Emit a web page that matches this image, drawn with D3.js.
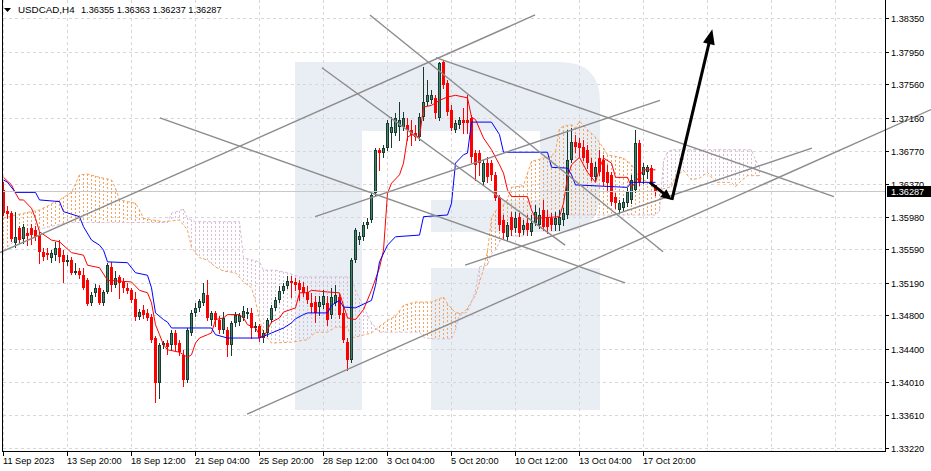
<!DOCTYPE html>
<html><head><meta charset="utf-8">
<script src="https://cdnjs.cloudflare.com/ajax/libs/d3/7.8.5/d3.min.js"></script>
<style>html,body{margin:0;padding:0;background:#fff;}svg{display:block;font-family:"Liberation Sans",Arial,sans-serif;}</style>
</head><body><svg id="c" width="931" height="471"></svg>
<script>
const symbolName = "USDCAD,H4";
const lastBarText = "1.36355 1.36363 1.36237 1.36287";
const lastPrice = 1.36287;

const open = [1.3630,1.3605,1.3602,1.3567,1.3584,1.3571,1.3579,1.3584,1.3582,1.3576,1.3556,1.3555,1.3549,1.3552,1.3561,1.3552,1.3544,1.3546,1.3531,1.3533,
1.3528,1.3522,1.3495,1.3507,1.3513,1.3495,1.3508,1.3538,1.3516,1.3526,1.3520,1.3513,1.3510,1.3500,1.3478,1.3487,1.3483,1.3478,1.3453,1.3399,
1.3445,1.3447,1.3445,1.3459,1.3447,1.3433,1.3403,1.3459,1.3483,1.3489,1.3495,1.3504,1.3475,1.3483,1.3475,1.3463,1.3463,1.3445,1.3471,1.3472,
1.3477,1.3482,1.3483,1.3465,1.3467,1.3453,1.3459,1.3475,1.3489,1.3498,1.3509,1.3515,1.3521,1.3520,1.3519,1.3514,1.3508,1.3495,1.3496,1.3490,
1.3492,1.3495,1.3481,1.3495,1.3502,1.3483,1.3448,1.3427,1.3546,1.3570,1.3574,1.3588,1.3594,1.3626,1.3678,1.3674,1.3680,1.3698,1.3698,1.3705,
1.3705,1.3708,1.3702,1.3698,1.3693,1.3717,1.3735,1.3737,1.3740,1.3716,1.3783,1.3758,1.3726,1.3702,1.3708,1.3714,1.3714,1.3716,1.3674,1.3674,
1.3639,1.3662,1.3662,1.3648,1.3622,1.3594,1.3574,1.3598,1.3584,1.3598,1.3582,1.3590,1.3580,1.3590,1.3588,1.3606,1.3598,1.3596,1.3588,1.3588,
1.3594,1.3600,1.3666,1.3687,1.3686,1.3681,1.3678,1.3662,1.3645,1.3668,1.3666,1.3651,1.3648,1.3622,1.3606,1.3608,1.3614,1.3618,1.3630,1.3686,
1.3648,1.3651,1.3656,1.36355];
const high = [1.3639,1.3611,1.3605,1.3604,1.3587,1.3589,1.3584,1.3589,1.3587,1.3580,1.3561,1.3561,1.3558,1.3568,1.3570,1.3558,1.3552,1.3550,1.3543,1.3537,
1.3537,1.3525,1.3508,1.3518,1.3516,1.3510,1.3543,1.3544,1.3533,1.3528,1.3525,1.3519,1.3513,1.3508,1.3488,1.3492,1.3488,1.3482,1.3455,1.3447,
1.3449,1.3451,1.3463,1.3463,1.3451,1.3439,1.3465,1.3487,1.3495,1.3500,1.3519,1.3522,1.3485,1.3485,1.3479,1.3484,1.3466,1.3473,1.3484,1.3483,
1.3491,1.3489,1.3489,1.3472,1.3470,1.3463,1.3477,1.3492,1.3502,1.3515,1.3519,1.3527,1.3527,1.3525,1.3522,1.3520,1.3515,1.3507,1.3503,1.3503,
1.3510,1.3503,1.3513,1.3516,1.3506,1.3492,1.3453,1.3549,1.3584,1.3580,1.3592,1.3596,1.3626,1.3680,1.3680,1.3684,1.3714,1.3717,1.3722,1.3735,
1.3723,1.3716,1.3714,1.3708,1.3722,1.3777,1.3761,1.3749,1.3743,1.3783,1.3785,1.3761,1.3731,1.3714,1.3717,1.3728,1.3743,1.3720,1.3678,1.3678,
1.3666,1.3669,1.3666,1.3651,1.3624,1.3600,1.3592,1.3604,1.3604,1.3602,1.3594,1.3600,1.3600,1.3612,1.3608,1.3618,1.3606,1.3602,1.3604,1.3606,
1.3608,1.3702,1.3704,1.3696,1.3692,1.3690,1.3684,1.3668,1.3663,1.3678,1.3672,1.3660,1.3651,1.3626,1.3618,1.3620,1.3632,1.3648,1.3702,1.3690,
1.3662,1.3660,1.3660,1.36363];
const low = [1.3600,1.3596,1.3569,1.3562,1.3567,1.3567,1.3564,1.3565,1.3570,1.3543,1.3546,1.3547,1.3544,1.3546,1.3544,1.3520,1.3540,1.3529,1.3530,1.3525,
1.3512,1.3492,1.3492,1.3503,1.3494,1.3492,1.3507,1.3509,1.3514,1.3501,1.3508,1.3507,1.3496,1.3475,1.3476,1.3477,1.3475,1.3448,1.3377,1.3381,
1.3441,1.3434,1.3439,1.3439,1.3433,1.3396,1.3400,1.3457,1.3479,1.3485,1.3492,1.3475,1.3469,1.3467,1.3459,1.3459,1.3432,1.3433,1.3467,1.3469,
1.3475,1.3477,1.3453,1.3461,1.3449,1.3448,1.3455,1.3472,1.3487,1.3496,1.3507,1.3513,1.3502,1.3510,1.3498,1.3503,1.3495,1.3484,1.3472,1.3481,
1.3489,1.3469,1.3477,1.3492,1.3477,1.3448,1.3415,1.3424,1.3544,1.3565,1.3570,1.3584,1.3592,1.3624,1.3654,1.3669,1.3678,1.3681,1.3696,1.3690,
1.3702,1.3690,1.3684,1.3690,1.3690,1.3714,1.3731,1.3734,1.3716,1.3714,1.3752,1.3720,1.3702,1.3699,1.3704,1.3698,1.3698,1.3663,1.3642,1.3648,
1.3636,1.3639,1.3642,1.3618,1.3582,1.3572,1.3570,1.3576,1.3580,1.3575,1.3577,1.3576,1.3576,1.3588,1.3584,1.3582,1.3579,1.3582,1.3582,1.3582,
1.3588,1.3596,1.3663,1.3675,1.3671,1.3666,1.3656,1.3642,1.3642,1.3648,1.3636,1.3630,1.3612,1.3608,1.3602,1.3606,1.3611,1.3614,1.3627,1.3636,
1.3638,1.3644,1.3636,1.36237];
const close = [1.3602,1.3601,1.3571,1.3574,1.3570,1.3586,1.3575,1.3576,1.3574,1.3556,1.3550,1.3552,1.3555,1.3561,1.3550,1.3544,1.3546,1.3531,1.3533,1.3528,
1.3513,1.3494,1.3504,1.3513,1.3495,1.3508,1.3540,1.3516,1.3525,1.3519,1.3513,1.3509,1.3498,1.3478,1.3484,1.3481,1.3477,1.3451,1.3399,1.3445,
1.3447,1.3442,1.3459,1.3445,1.3436,1.3403,1.3463,1.3483,1.3489,1.3497,1.3507,1.3477,1.3483,1.3475,1.3463,1.3477,1.3445,1.3471,1.3481,1.3480,
1.3485,1.3484,1.3465,1.3467,1.3453,1.3459,1.3475,1.3489,1.3498,1.3509,1.3515,1.3521,1.3519,1.3516,1.3510,1.3507,1.3498,1.3490,1.3483,1.3496,
1.3503,1.3475,1.3502,1.3504,1.3481,1.3451,1.3427,1.3546,1.3582,1.3575,1.3588,1.3592,1.3624,1.3678,1.3674,1.3680,1.3710,1.3705,1.3716,1.3714,
1.3716,1.3702,1.3696,1.3693,1.3717,1.3735,1.3743,1.3743,1.3722,1.3782,1.3755,1.3723,1.3704,1.3710,1.3714,1.3710,1.3710,1.3669,1.3660,1.3662,
1.3662,1.3645,1.3648,1.3620,1.3588,1.3579,1.3588,1.3582,1.3596,1.3579,1.3588,1.3582,1.3590,1.3604,1.3600,1.3586,1.3586,1.3588,1.3596,1.3598,
1.3602,1.3666,1.3687,1.3681,1.3680,1.3668,1.3662,1.3645,1.3657,1.3651,1.3639,1.3638,1.3616,1.3614,1.3614,1.3616,1.3627,1.3642,1.3686,1.3639,
1.3657,1.3657,1.3639,1.36287];

// Ichimoku lines: [bar index, price]
const tenkan = [[0,1.3645],[2,1.3636],[3,1.3626],[4,1.3618],[5,1.3618],[7,1.3608],[8,1.3596],[9,1.3580],[12,1.3570],[14,1.3568],[17,1.3555],[20,1.3552],[21,1.3540],[24,1.3537],[26,1.3522],[32,1.3520],[34,1.3510],[36,1.3507],[37,1.3495],[38,1.3469],[39,1.3457],[40,1.3445],[41,1.3439],[44,1.3436],[46,1.3430],[47,1.3433],[48,1.3447],[49,1.3453],[51,1.3457],[52,1.3459],[53,1.3475],[55,1.3477],[56,1.3481],[59,1.3481],[60,1.3477],[61,1.3469],[63,1.3465],[64,1.3457],[65,1.3453],[66,1.3463],[67,1.3472],[69,1.3477],[70,1.3484],[73,1.3489],[74,1.3507],[76,1.3507],[77,1.3510],[81,1.3508],[84,1.3507],[85,1.3492],[86,1.3477],[88,1.3475],[90,1.3487],[92,1.3510],[94,1.3537],[95,1.3558],[96,1.3626],[97,1.3638],[99,1.3648],[100,1.3662],[101,1.3693],[102,1.3696],[104,1.3693],[105,1.3729],[107,1.3731],[109,1.3737],[111,1.3741],[113,1.3743],[116,1.3740],[117,1.3717],[118,1.3714],[120,1.3692],[122,1.3678],[124,1.3660],[125,1.3650],[126,1.3630],[127,1.3622],[131,1.3622],[132,1.3606],[133,1.3596],[139,1.3598],[140,1.3614],[141,1.3645],[142,1.3660],[144,1.3669],[146,1.3651],[148,1.3639],[149,1.3656],[150,1.3668],[152,1.3662],[153,1.3645],[156,1.3645],[157,1.3633],[158,1.3639],[160,1.3654],[163,1.3654]];
const kijun = [[0,1.3642],[1,1.3639],[3,1.3627],[8,1.3627],[9,1.3618],[14,1.3616],[15,1.3604],[19,1.3598],[20,1.3586],[22,1.3570],[24,1.3564],[25,1.3558],[26,1.3544],[31,1.3543],[33,1.3531],[36,1.3528],[37,1.3513],[38,1.3483],[40,1.3475],[41,1.3472],[42,1.3465],[52,1.3465],[53,1.3457],[56,1.3453],[64,1.3453],[67,1.3459],[70,1.3465],[72,1.3471],[73,1.3476],[75,1.3481],[76,1.3483],[81,1.3483],[82,1.3492],[84,1.3498],[85,1.3490],[88,1.3489],[92,1.3498],[93,1.3516],[94,1.3544],[96,1.3564],[98,1.3574],[104,1.3576],[105,1.3598],[111,1.3600],[112,1.3614],[113,1.3662],[115,1.3672],[116,1.3674],[117,1.3711],[122,1.3711],[124,1.3696],[125,1.3675],[136,1.3675],[137,1.3657],[141,1.3656],[142,1.3648],[143,1.3636],[156,1.3633],[157,1.3639],[163,1.3639]];
const spanA = [[0,1.3596],[3,1.3600],[9,1.3606],[14,1.3618],[17,1.3627],[19,1.3648],[21,1.3649],[24,1.3645],[27,1.3642],[28,1.3632],[29,1.3618],[33,1.3614],[34,1.3606],[35,1.3596],[40,1.3592],[44,1.3594],[46,1.3582],[47,1.3561],[49,1.3549],[51,1.3546],[53,1.3538],[55,1.3533],[58,1.3531],[60,1.3520],[62,1.3513],[63,1.3497],[64,1.3475],[65,1.3459],[67,1.3447],[72,1.3448],[76,1.3451],[78,1.3460],[81,1.3460],[83,1.3466],[86,1.3466],[87,1.3453],[92,1.3459],[94,1.3467],[96,1.3474],[98,1.3479],[100,1.3492],[103,1.3496],[107,1.3496],[110,1.3502],[111,1.3494],[113,1.3483],[115,1.3483],[116,1.3489],[118,1.3504],[120,1.3535],[121,1.3557],[122,1.3596],[123,1.3605],[125,1.3612],[126,1.3619],[127,1.3633],[130,1.3635],[131,1.3650],[132,1.3664],[135,1.3668],[137,1.3670],[138,1.3677],[139,1.3703],[140,1.3706],[142,1.3708],[143,1.3704],[144,1.3712],[146,1.3702],[148,1.3693],[150,1.3680],[151,1.3672],[155,1.3668],[157,1.3660],[159,1.3645],[162,1.3636],[163,1.3627],[164,1.3630],[167,1.3634],[168,1.3646],[170,1.3653],[172,1.3642],[174,1.3644],[176,1.3651],[178,1.3639],[182,1.3639],[183,1.3634],[184,1.3639],[186,1.3647],[189,1.3647]];
const spanB = [[0,1.3558],[3,1.3570],[8,1.3582],[16,1.3591],[41,1.3591],[42,1.3602],[45,1.3607],[46,1.3596],[48,1.3592],[59,1.3592],[60,1.3549],[64,1.3544],[65,1.3534],[68,1.3534],[71,1.3531],[74,1.3526],[87,1.3526],[88,1.3510],[92,1.3471],[94,1.3460],[104,1.3460],[105,1.3454],[107,1.3452],[112,1.3452],[113,1.3463],[114,1.3481],[116,1.3484],[117,1.3496],[118,1.3510],[119,1.3538],[121,1.3540],[122,1.3554],[123,1.3558],[124,1.3568],[125,1.3575],[130,1.3575],[131,1.3595],[135,1.3599],[136,1.3600],[163,1.3600],[164,1.3605],[165,1.3665],[166,1.3675],[167,1.3678],[187,1.3678],[188,1.3666],[189,1.3657]];

// Drawn trend lines: endpoints as [bar index, price]
const trendLines = [
  [[-0.9,1.3555],[132.9,1.3839]],
  [[39.1,1.3716],[155.4,1.3519]],
  [[60.9,1.3362],[231.9,1.3726]],
  [[77.9,1.3598],[164.1,1.3737]],
  [[115.4,1.3540],[202.1,1.3680]],
  [[108.1,1.3788],[207.6,1.3622]],
  [[91.6,1.3839],[164.9,1.3556]],
  [[79.6,1.3776],[140.4,1.3564]]
];
// Forecast arrows
const arrows = [
  {from:[161.6,1.3639], to:[167.1,1.3618], head:11, w:10},
  {from:[167.1,1.3618], to:[177.2,1.3822], head:15, w:12}
];

const xTickBars = [0,16,32,48,64,80,96,112,128,144,160];
const xTickLabels = ["11 Sep 2023","13 Sep 20:00","18 Sep 12:00","21 Sep 04:00","25 Sep 20:00","28 Sep 12:00","3 Oct 04:00","5 Oct 20:00","10 Oct 12:00","13 Oct 04:00","17 Oct 20:00"];
const xGridBars = [0,16,32,48,64,80,96,112,128,144,160,176,192,208];
const yTickValues = [1.38350,1.37950,1.37560,1.37160,1.36770,1.36370,1.35980,1.35590,1.35190,1.34800,1.34400,1.34010,1.33610,1.33220];

const W=931,H=471, plotR=885.5, plotB=451.5;
const svg = d3.select("#c");
const x = d3.scaleLinear().domain([0,1]).range([3.5,7.5]);
const y = d3.scaleLinear().domain([1.33180,1.38569]).range([451,0]);
const ry = v => Math.round(y(v));

svg.append("rect").attr("width",W).attr("height",H).attr("fill","#fff");

// watermark
const wm = svg.append("g").attr("fill","#e9edf4");
wm.append("path").attr("fill-rule","evenodd").attr("d",
 "M295,62 H560 Q600,62 600,102 V192 Q600,232 560,232 H431 V200 H540 V131 H362 V410 H295 Z");
wm.append("rect").attr("x",431).attr("y",268).attr("width",169).attr("height",142);

// grid
const grid = svg.append("g").attr("stroke","#d7d7d7").attr("stroke-dasharray","3,3").attr("shape-rendering","crispEdges");
grid.selectAll("line.v").data(xGridBars).join("line").attr("class","v").attr("x1",d=>x(d)).attr("x2",d=>x(d)).attr("y1",0).attr("y2",451);
grid.selectAll("line.h").data(yTickValues).join("line").attr("class","h").attr("x1",3).attr("x2",885).attr("y1",d=>ry(d)+0.5).attr("y2",d=>ry(d)+0.5);

// cloud: one dashed stroke per bar between Senkou A and Senkou B, as the drawn lines pass that bar
function along(series, i){
  for(let k=0;k<series.length-1;k++){
    const a=series[k], b=series[k+1];
    if(i>=a[0] && i<=b[0]) return a[1]+(b[1]-a[1])*(i-a[0])/(b[0]-a[0]);
  }
  return null;
}
const lastCloudBar = spanA[spanA.length-1][0];
const hatch = d3.range(0,lastCloudBar+1).map(i=>({i,a:along(spanA,i),b:along(spanB,i)}));
svg.append("g").attr("shape-rendering","crispEdges").selectAll("line").data(hatch).join("line")
  .attr("x1",d=>x(d.i)).attr("x2",d=>x(d.i))
  .attr("y1",d=>Math.round(y(Math.max(d.a,d.b)))).attr("y2",d=>Math.round(y(Math.min(d.a,d.b))))
  .attr("stroke",d=>d.a>=d.b?"#f4a460":"#d8bfd8").attr("stroke-dasharray","2,2");
const line = d3.line().x(d=>x(d[0])).y(d=>y(d[1]));
svg.append("path").attr("d",line(spanA)).attr("fill","none").attr("stroke","#f4a460").attr("stroke-dasharray","3,2");
svg.append("path").attr("d",line(spanB)).attr("fill","none").attr("stroke","#d8bfd8").attr("stroke-dasharray","3,2");

// candles
const bars = open.map((o,i)=>({i,o,h:high[i],l:low[i],c:close[i]}));
const bullFill="#3f8468", bullEdge="#1b3a2e", bear="#ff0000";
const cg = svg.append("g").attr("shape-rendering","crispEdges");
cg.selectAll("line").data(bars).join("line")
  .attr("x1",d=>x(d.i)).attr("x2",d=>x(d.i)).attr("y1",d=>ry(d.h)).attr("y2",d=>ry(d.l)+1)
  .attr("stroke",d=>d.c>d.o?bullEdge:bear);
cg.selectAll("rect").data(bars).join("rect")
  .attr("x",d=>x(d.i)-1).attr("width",2)
  .attr("y",d=>ry(Math.max(d.o,d.c))+0.5)
  .attr("height",d=>Math.max(ry(Math.min(d.o,d.c))-ry(Math.max(d.o,d.c))-1,0))
  .attr("fill",d=>d.c>d.o?bullFill:bear).attr("stroke",d=>d.c>d.o?bullEdge:bear);

// tenkan / kijun
svg.append("path").attr("d",line(tenkan)).attr("fill","none").attr("stroke","#ff0000").attr("stroke-width",1);
svg.append("path").attr("d",line(kijun)).attr("fill","none").attr("stroke","#0000ff").attr("stroke-width",1);

// bid line
svg.append("line").attr("x1",3).attr("x2",885).attr("y1",ry(lastPrice)+0.5).attr("y2",ry(lastPrice)+0.5).attr("stroke","#c8c8c8");

// trend lines
svg.append("g").selectAll("line").data(trendLines).join("line")
  .attr("x1",d=>x(d[0][0])).attr("y1",d=>y(d[0][1])).attr("x2",d=>x(d[1][0])).attr("y2",d=>y(d[1][1]))
  .attr("stroke","#8c8c8c").attr("stroke-width",1.4);

// arrows
const ag = svg.append("g");
arrows.forEach(a=>{
  const X1=x(a.from[0]),Y1=y(a.from[1]),X2=x(a.to[0]),Y2=y(a.to[1]);
  const L=Math.hypot(X2-X1,Y2-Y1), ux=(X2-X1)/L, uy=(Y2-Y1)/L;
  const bx=X2-ux*a.head, by=Y2-uy*a.head;
  ag.append("line").attr("x1",X1).attr("y1",Y1).attr("x2",bx+ux*2).attr("y2",by+uy*2).attr("stroke","#000").attr("stroke-width",3);
  ag.append("path").attr("d",`M${X2},${Y2}L${bx-uy*a.w/2},${by+ux*a.w/2}L${bx+uy*a.w/2},${by-ux*a.w/2}Z`).attr("fill","#000");
});

// frame and axes
const ax = svg.append("g").attr("shape-rendering","crispEdges").attr("stroke","#000");
ax.append("line").attr("x1",2.5).attr("x2",2.5).attr("y1",0).attr("y2",plotB);
ax.append("line").attr("x1",2).attr("x2",886).attr("y1",plotB).attr("y2",plotB);
ax.append("line").attr("x1",plotR).attr("x2",plotR).attr("y1",0).attr("y2",452);
ax.selectAll("line.yt").data(yTickValues).join("line").attr("class","yt").attr("x1",886).attr("x2",889).attr("y1",d=>ry(d)+0.5).attr("y2",d=>ry(d)+0.5);
ax.selectAll("line.xt").data(xTickBars).join("line").attr("class","xt").attr("x1",d=>Math.floor(x(d))+0.5).attr("x2",d=>Math.floor(x(d))+0.5).attr("y1",452).attr("y2",456);

const fmt = d3.format(".5f");
svg.append("g").selectAll("text").data(yTickValues).join("text")
  .attr("x",891).attr("y",d=>ry(d)+3.5).attr("font-size","9.2px").attr("fill","#000").text(d=>fmt(d));
svg.append("g").selectAll("text").data(xTickBars).join("text")
  .attr("x",d=>Math.floor(x(d))).attr("y",464).attr("font-size","9.2px").attr("fill","#000").text((d,i)=>xTickLabels[i]);

// last price label
svg.append("rect").attr("x",887).attr("y",ry(lastPrice)-5).attr("width",44).attr("height",11).attr("fill","#000");
svg.append("text").attr("x",891).attr("y",ry(lastPrice)+4).attr("font-size","9.2px").attr("fill","#fff").text(fmt(lastPrice));

// title
svg.append("path").attr("d","M4,8 L11,8 L7.5,12 Z").attr("fill","#000");
svg.append("text").attr("x",18).attr("y",13).attr("font-size","9.8px").attr("fill","#000").text(symbolName);
svg.append("text").attr("x",81).attr("y",13).attr("font-size","9.2px").attr("fill","#000").text(lastBarText);
</script></body></html>
